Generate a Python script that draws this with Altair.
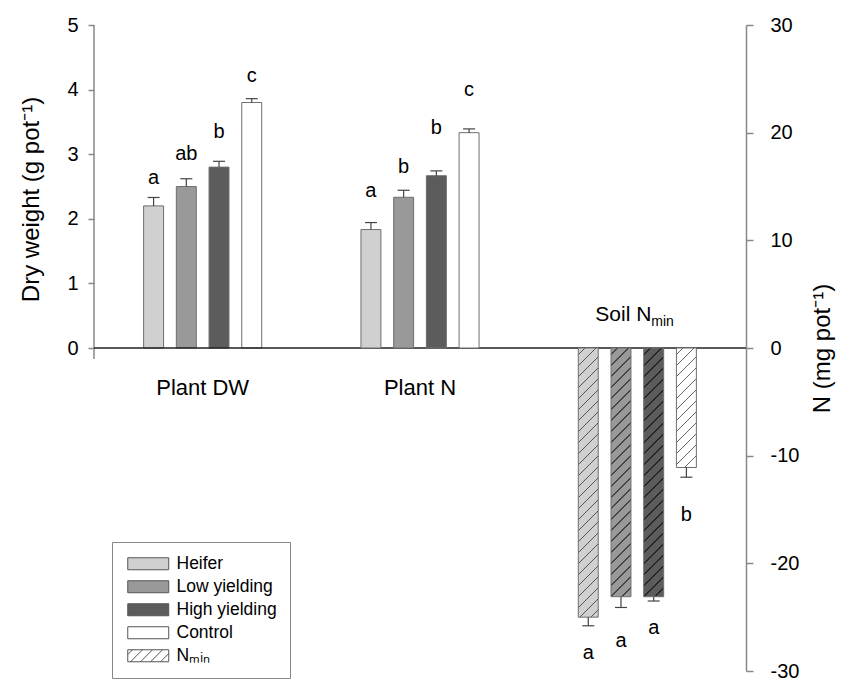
import altair as alt
import pandas as pd

# ---------------- data ----------------
groups = ["Plant DW", "Plant N", "Soil Nmin"]
treatments = ["Heifer", "Low yielding", "High yielding", "Control"]
bar_fills = ["#d0d0d0", "#999999", "#5c5c5c", "#ffffff"]
hatch_colors = ["#555555", "#444444", "#262626", "#666666"]

dw_mean = [2.2, 2.5, 2.8, 3.8]            # g pot-1 (left axis)
dw_se = [0.13, 0.12, 0.09, 0.06]
dw_letter = ["a", "ab", "b", "c"]
dw_letter_y = [2.54, 2.91, 3.25, 4.11]

pn_mean = [11.0, 14.0, 16.0, 20.0]        # mg pot-1 (right axis)
pn_se = [0.65, 0.65, 0.45, 0.35]
pn_letter = ["a", "b", "b", "c"]
pn_letter_y = [14.0, 16.3, 19.9, 23.4]

soil_mean = [-25.0, -23.1, -23.1, -11.1]  # mg pot-1 (right axis)
soil_se = [0.8, 1.0, 0.4, 0.9]
soil_letter = ["a", "a", "a", "b"]
soil_letter_y = [-28.9, -27.8, -26.6, -16.1]

group_label_text = ["Plant DW", "Plant N"]
group_label_y = [-4.4, -4.4]
soil_label_text = ["Soil N"]
soil_label_y = [2.5]
soil_sub_text = ["min"]
soil_sub_y = [2.0]

legend_items = treatments + ["N\u2098\u1d62\u2099"]
legend_fills = bar_fills + ["#ffffff"]

left_ticks = [0, 1, 2, 3, 4, 5]
right_ticks = [-30, -20, -10, 0, 10, 20, 30]

# ---------------- layout constants ----------------
W, H = 652, 646
FONT = "Liberation Sans"
X_PAD_IN, X_PAD_OUT = 0.398, 0.199
O_PAD_IN, O_PAD_OUT = 0.39, 0.195

step_x = W / (len(groups) - X_PAD_IN + 2 * X_PAD_OUT)
band_x = step_x * (1 - X_PAD_IN)
step_o = band_x / (len(treatments) - O_PAD_IN + 2 * O_PAD_OUT)
bar_w = step_o * (1 - O_PAD_IN)


def hatch_gradient(base, line, w, h, period=11.0, lw=1.5):
    L = w + h
    den = w * w + h * h
    a = w * L / den
    b = h * L / den
    stops = [{"offset": 0, "color": base}]
    k = 0
    while True:
        c = (k * period + period * 0.6) / L
        s0, s1 = c - lw / 2 / L, c + lw / 2 / L
        if s1 >= 1:
            break
        stops += [
            {"offset": round(s0, 5), "color": base},
            {"offset": round(s0, 5), "color": line},
            {"offset": round(s1, 5), "color": line},
            {"offset": round(s1, 5), "color": base},
        ]
        k += 1
    stops.append({"offset": 1, "color": base})
    return {"gradient": "linear", "x1": 0, "y1": 0, "x2": a, "y2": b, "stops": stops}


def swatch_path(hatched):
    unit = 6.0  # sqrt(144)/2
    x0, x1, y0, y1 = -1.0, -1.0 + 41 / unit, -1.0, 1.0
    p = f"M{x0},{y0}H{x1:.3f}V{y1}H{x0}Z"
    if hatched:
        s = -2.2
        while s < x1:
            tmin = max(0.0, -1.0 - s)
            tmax = min(2.0, x1 - s)
            if tmin < tmax:
                p += f"M{s + tmin:.3f},{1 - tmin:.3f}L{s + tmax:.3f},{1 - tmax:.3f}"
            s += 10 / unit
    return p


legend_shapes = [swatch_path(False)] * 4 + [swatch_path(True)]

# ---------------- tables ----------------
dw_df = pd.DataFrame({
    "group": groups[0], "treat": treatments, "mean": dw_mean,
    "end": [m + s for m, s in zip(dw_mean, dw_se)],
    "letter": dw_letter, "ly": dw_letter_y, "col": bar_fills,
})
pn_df = pd.DataFrame({
    "group": groups[1], "treat": treatments, "mean": pn_mean,
    "end": [m + s for m, s in zip(pn_mean, pn_se)],
    "letter": pn_letter, "ly": pn_letter_y, "col": bar_fills,
})
soil_df = pd.DataFrame({
    "group": groups[2], "treat": treatments, "mean": soil_mean,
    "end": [m - s for m, s in zip(soil_mean, soil_se)],
    "letter": soil_letter, "ly": soil_letter_y, "col": bar_fills,
})
glab_df = pd.DataFrame({"group": groups[:2], "text": group_label_text, "y": group_label_y})
slab_df = pd.DataFrame({"group": [groups[2]], "text": soil_label_text, "y": soil_label_y})
ssub_df = pd.DataFrame({"group": [groups[2]], "text": soil_sub_text, "y": soil_sub_y})
leg_df = pd.DataFrame({"item": legend_items, "group": groups[0], "v": 0, "show": 0})
axis_df = pd.DataFrame({"a": [0]})

# ---------------- encodings ----------------
X = alt.X("group:N", scale=alt.Scale(domain=groups, paddingInner=X_PAD_IN, paddingOuter=X_PAD_OUT), axis=None)
XO = alt.XOffset("treat:N", scale=alt.Scale(domain=treatments, paddingInner=O_PAD_IN, paddingOuter=O_PAD_OUT))


def SG():
    return alt.Scale(domain=[-5, 5], nice=False, zero=False)


def SM():
    return alt.Scale(domain=[-30, 30], nice=False, zero=False)


left_axis = alt.Axis(
    orient="left", values=left_ticks, domain=False, grid=False,
    tickSize=6, tickColor="#888888", tickWidth=1.5,
    labelFontSize=20, labelPadding=10, labelColor="black",
    title="Dry weight (g pot\u207b\u00b9)", titleFontSize=24, titleFontWeight="normal",
    titleColor="black", titleX=-63, titleY=174, titleAngle=270,
    titleAlign="center", titleBaseline="middle",
)
right_axis = alt.Axis(
    orient="right", values=right_ticks, grid=False,
    domainColor="#888888", domainWidth=1.5,
    tickSize=7, tickColor="#888888", tickWidth=1.5,
    labelFontSize=20, labelPadding=17, labelColor="black",
    labelExpr="datum.value + ''",
    title="N (mg pot\u207b\u00b9)", titleFontSize=24, titleFontWeight="normal",
    titleColor="black", titleX=76, titleY=H / 2, titleAngle=270,
    titleAlign="center", titleBaseline="middle",
)

BAR_STROKE = "#6e6e6e"
ERR = "#444444"

# ---------------- left (g) marks ----------------
dw_bars = alt.Chart(dw_df).mark_bar(stroke=BAR_STROKE, strokeWidth=1).encode(
    x=X, xOffset=XO, y=alt.Y("mean:Q", scale=SG(), axis=left_axis),
    color=alt.Color("col:N", scale=None),
)
dw_err = alt.Chart(dw_df).mark_rule(color=ERR, strokeWidth=1.2).encode(
    x=X, xOffset=XO, y=alt.Y("mean:Q", scale=SG(), axis=None), y2="end:Q",
)
dw_cap = alt.Chart(dw_df).mark_tick(color=ERR, size=12, thickness=1.2, opacity=1).encode(
    x=X, xOffset=XO, y=alt.Y("end:Q", scale=SG(), axis=None),
)
dw_txt = alt.Chart(dw_df).mark_text(fontSize=20, baseline="alphabetic", align="center", color="black").encode(
    x=X, xOffset=XO, y=alt.Y("ly:Q", scale=SG(), axis=None), text="letter:N",
)
left_line = alt.Chart(axis_df).mark_rule(color="#888888", strokeWidth=1.5).encode(
    x=alt.value(0), y=alt.YDatum(5, type="quantitative", scale=SG(), axis=None), y2=alt.Y2Datum(-0.17),
)

# ---------------- right (mg) marks ----------------
zero_line = alt.Chart(axis_df).mark_rule(color="#222222", strokeWidth=1.3).encode(
    y=alt.YDatum(0, type="quantitative", scale=SM(), axis=right_axis),
)
pn_bars = alt.Chart(pn_df).mark_bar(stroke=BAR_STROKE, strokeWidth=1).encode(
    x=X, xOffset=XO, y=alt.Y("mean:Q", scale=SM(), axis=None),
    color=alt.Color("col:N", scale=None),
)
soil_bars = []
for i, t in enumerate(treatments):
    h = abs(soil_mean[i]) * H / 60.0
    soil_bars.append(
        alt.Chart(soil_df).transform_filter(alt.datum.treat == t).mark_bar(
            fill=hatch_gradient(bar_fills[i], hatch_colors[i], bar_w, h),
            stroke=BAR_STROKE, strokeWidth=1,
        ).encode(x=X, xOffset=XO, y=alt.Y("mean:Q", scale=SM(), axis=None))
    )

err_layers = []
txt_layers = []
for df in (pn_df, soil_df):
    err_layers.append(alt.Chart(df).mark_rule(color=ERR, strokeWidth=1.2).encode(
        x=X, xOffset=XO, y=alt.Y("mean:Q", scale=SM(), axis=None), y2="end:Q"))
    err_layers.append(alt.Chart(df).mark_tick(color=ERR, size=12, thickness=1.2, opacity=1).encode(
        x=X, xOffset=XO, y=alt.Y("end:Q", scale=SM(), axis=None)))
    txt_layers.append(alt.Chart(df).mark_text(fontSize=20, baseline="alphabetic", align="center", color="black").encode(
        x=X, xOffset=XO, y=alt.Y("ly:Q", scale=SM(), axis=None), text="letter:N"))

glab = alt.Chart(glab_df).mark_text(fontSize=22, baseline="alphabetic", align="center", color="black").encode(
    x=X, y=alt.Y("y:Q", scale=SM(), axis=None), text="text:N")
slab = alt.Chart(slab_df).mark_text(fontSize=21, baseline="alphabetic", align="right", dx=14, color="black").encode(
    x=X, y=alt.Y("y:Q", scale=SM(), axis=None), text="text:N")
ssub = alt.Chart(ssub_df).mark_text(fontSize=14, baseline="alphabetic", align="left", dx=14, color="black").encode(
    x=X, y=alt.Y("y:Q", scale=SM(), axis=None), text="text:N")

leg = alt.Legend(
    orient="none", legendX=18, legendY=517, title=None,
    strokeColor="#888888", fillColor="white", padding=13, rowPadding=4,
    labelFontSize=17.5, labelOffset=34, labelColor="black", labelLimit=300,
    symbolSize=144, symbolStrokeWidth=1, cornerRadius=0,
)
legend_layer = alt.Chart(leg_df).transform_filter("datum.show == 1").mark_point(filled=True, opacity=1).encode(
    x=X, y=alt.Y("v:Q", scale=SM(), axis=None),
    fill=alt.Fill("item:N", scale=alt.Scale(domain=legend_items, range=legend_fills), legend=leg),
    shape=alt.Shape("item:N", scale=alt.Scale(domain=legend_items, range=legend_shapes), legend=leg),
    stroke=alt.Stroke("item:N", scale=alt.Scale(domain=legend_items, range=["#555555"] * 5), legend=leg),
)

chart = alt.layer(
    dw_bars, dw_err, dw_cap, dw_txt, left_line,
    zero_line, pn_bars, *soil_bars, *err_layers, *txt_layers, glab, slab, ssub, legend_layer,
).resolve_scale(y="independent").properties(
    width=W, height=H,
    padding={"left": 86, "top": 17, "right": 97, "bottom": 10},
    autosize=alt.AutoSizeParams(type="none"),
).configure(font=FONT).configure_view(stroke=None)

chart.save("out.html", embed_options={"renderer": "svg", "actions": False})
